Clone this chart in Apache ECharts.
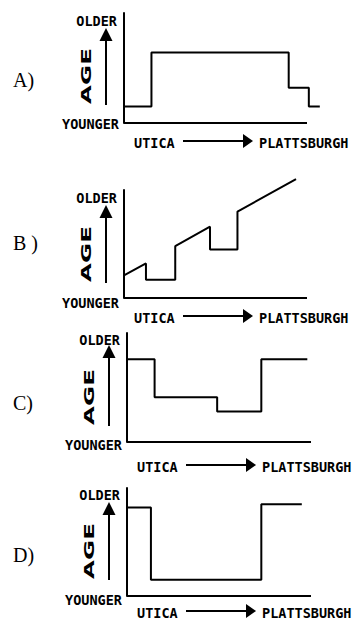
<!DOCTYPE html>
<html>
<head>
<meta charset="utf-8">
<script src="https://cdn.jsdelivr.net/npm/echarts@6/dist/echarts.min.js"></script>
<style>
html, body { margin: 0; padding: 0; background: #fff; }
#main { width: 354px; height: 621px; }
</style>
</head>
<body>
<div id="main"></div>
<script>
// x = distance from Utica (0..100 = drawn length of the axis), y = relative age (0..100)
var aX = [0, 15, 15, 90, 90, 101, 101, 107];
var aY = [15, 15, 64, 64, 32, 32, 15, 15];
var bX = [0, 12, 12, 28, 28, 47, 47, 62, 62, 94];
var bY = [21, 32, 17, 17, 48, 66, 45, 45, 80, 110];
var cX = [0, 15, 15, 49, 49, 73, 73, 98];
var cY = [76, 76, 41, 41, 28, 28, 76, 76];
var dX = [0, 13, 13, 73, 73, 95];
var dY = [82, 82, 15, 15, 85, 85];

var letters = ['A)', 'B )', 'C)', 'D)'];
var olderText = 'OLDER', youngerText = 'YOUNGER', ageText = 'AGE';
var fromText = 'UTICA', toText = 'PLATTSBURGH';

var seriesX = [aX, bX, cX, dX];
var seriesY = [aY, bY, cY, dY];

// layout of the four small panels (pixels)
var panels = [
    {left: 124, top: 13,  bottom: 123, right: 307, letterY: 80,  olderY: 21,  youngerY: 124, arrowTop: 28,  arrowBottom: 105, routeY: 143},
    {left: 124, top: 190, bottom: 298, right: 307, letterY: 243, olderY: 198, youngerY: 303, arrowTop: 205, arrowBottom: 283, routeY: 318},
    {left: 127, top: 333, bottom: 442, right: 311, letterY: 403, olderY: 340, youngerY: 445, arrowTop: 345, arrowBottom: 426, routeY: 467},
    {left: 127, top: 488, bottom: 596, right: 311, letterY: 555, olderY: 495, youngerY: 600, arrowTop: 502, arrowBottom: 580, routeY: 613}
];

var xMax = 110; // the drawn x axis only covers 0..100, the data runs a bit past it
var smallFont = 'bold 13.5px "DejaVu Sans Mono", monospace';
var grids = [], xAxes = [], yAxes = [], series = [], graphics = [];

function axis(i, max, showLine) {
    return {
        type: 'value', gridIndex: i, min: 0, max: max,
        axisLine: { show: showLine, onZero: false, lineStyle: { color: '#000', width: 2 } },
        axisTick: { show: false }, axisLabel: { show: false }, splitLine: { show: false }
    };
}

function txt(x, y, s, font, align, extra) {
    var el = {
        type: 'text', x: x, y: y, silent: true,
        style: { text: s, font: font, fill: '#000', align: align, verticalAlign: 'middle',
                 textAlign: align, textVerticalAlign: 'middle' }
    };
    for (var k in extra) el[k] = extra[k];
    return el;
}

panels.forEach(function (p, i) {
    var w = p.right - p.left;
    grids.push({ left: p.left, top: p.top, width: w * xMax / 100, height: p.bottom - p.top });
    xAxes.push(axis(i, xMax, false));
    yAxes.push(axis(i, 100, true));
    series.push({
        type: 'line', xAxisIndex: i, yAxisIndex: i, clip: false, showSymbol: false, silent: true,
        lineStyle: { color: '#000', width: 2 },
        data: seriesX[i].map(function (x, j) { return [x, seriesY[i][j]]; })
    });

    // horizontal axis line (0..100 of the x scale)
    graphics.push({ type: 'line', silent: true, shape: { x1: p.left, y1: p.bottom, x2: p.right, y2: p.bottom },
        style: { stroke: '#000', lineWidth: 2 } });

    var ax = p.left - 18;
    graphics.push(txt(13, p.letterY, letters[i], '20px "Liberation Serif", serif', 'left'));
    graphics.push(txt(p.left - 7, p.olderY, olderText, smallFont, 'right'));
    graphics.push(txt(p.left - 5, p.youngerY, youngerText, smallFont, 'right'));
    graphics.push(txt(p.left - 38, p.arrowBottom - 29, ageText, 'bold 14px "DejaVu Sans", sans-serif', 'center',
        { rotation: Math.PI / 2, scaleX: 1.75 }));
    // up arrow
    graphics.push({ type: 'line', silent: true, shape: { x1: ax, y1: p.arrowBottom, x2: ax, y2: p.arrowTop + 10 },
        style: { stroke: '#000', lineWidth: 2 } });
    graphics.push({ type: 'polygon', silent: true,
        shape: { points: [[ax - 6.5, p.arrowTop + 13], [ax + 6.5, p.arrowTop + 13], [ax, p.arrowTop]] },
        style: { fill: '#000' } });
    // route labels and arrow
    graphics.push(txt(p.left + 10, p.routeY, fromText, smallFont, 'left'));
    graphics.push({ type: 'line', silent: true,
        shape: { x1: p.left + 59, y1: p.routeY - 2, x2: p.left + 122, y2: p.routeY - 2 },
        style: { stroke: '#000', lineWidth: 2 } });
    graphics.push({ type: 'polygon', silent: true,
        shape: { points: [[p.left + 119, p.routeY - 9], [p.left + 119, p.routeY + 5], [p.left + 129, p.routeY - 2]] },
        style: { fill: '#000' } });
    graphics.push(txt(p.left + 135, p.routeY, toText, smallFont, 'left'));
});

var myChart = echarts.init(document.getElementById('main'), null, { renderer: 'svg' });
myChart.setOption({
    animation: false,
    backgroundColor: '#fff',
    grid: grids,
    xAxis: xAxes,
    yAxis: yAxes,
    series: series,
    graphic: graphics
});
</script>
</body>
</html>
